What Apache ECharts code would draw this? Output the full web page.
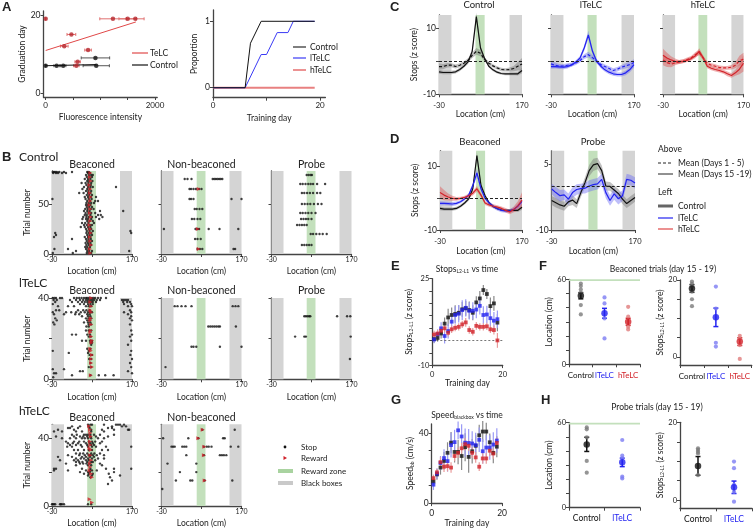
<!DOCTYPE html>
<html>
<head>
<meta charset="utf-8">
<script src="https://cdn.jsdelivr.net/npm/echarts@6/dist/echarts.min.js"></script>
<style>
  html, body { margin: 0; padding: 0; background: #fff; }
  #chart { width: 753px; height: 529px; }
</style>
</head>
<body>
<div id="chart"></div>
<script>
// ---------- data ----------
// A: graduation day vs fluorescence
var fluorTeLC = [0, 1230, 1500, 1640, 470, 340, 775, 585, 560]
var gradTeLC = [19, 19, 19, 19, 15, 12, 11, 8, 7]
var fluorSdTeLC = [0, 240, 160, 160, 80, 70, 60, 50, 50]
var fluorCtrl = [0, 200, 320, 910, 925]
var gradCtrl = [7, 7, 7, 9, 7]
var fluorSdCtrl = [0, 50, 50, 260, 240]
var fitTeLC = [[0, 10.9], [1650, 18.2]]
var fitCtrl = [[0, 7.0], [930, 7.3]]

// A: proportion graduated
var propDaysCtrl = [0, 6, 7, 9, 19]
var propCtrl = [0, 0, 0.67, 1, 1]
var propDaysL = [0, 6, 9, 10, 12, 14, 15, 19]
var propL = [0, 0, 0.5, 0.5, 0.83, 0.83, 1, 1]
var propDaysH = [0, 19]
var propH = [0, 0]

// B: stop rasters, rows are [trial, stop locations...]
var ctrlBeacon = [
  [82, -28, -25, -22, -18, -12, 0, 20, 58, 62], [81, -27, -20, -15, -5, 5, 60, 65],
  [79, 55, 62, 68, 72], [77, 57, 64, 70], [75, 52, 60, 66], [73, 58, 63, 71],
  [71, 44, 54, 61, 68], [69, 56, 62, 67], [67, 50, 60, 66, 72, 130], [65, 46, 58, 64],
  [63, 55, 61, 68], [61, 38, 49, 60, 66], [59, 57, 63, 70], [57, 52, 60, 67, 80],
  [55, -29, 54, 62, 69], [53, 58, 65, 78, 85], [51, 56, 62, 68, 75], [49, 55, 60, 66],
  [47, 57, 63, 70], [45, 53, 59, 67, 74], [43, 50, 58, 64, 90, 148], [41, 54, 61, 68, 78],
  [39, 52, 57, 66, 85, 92], [37, 48, 56, 62, 70, 80, 96], [35, 46, 55, 60, 68, 88],
  [33, 58, 64, 72], [31, 45, 53, 61, 75], [29, 50, 57, 65, 70], [27, 42, 52, 60, 66],
  [25, 55, 62, 68], [23, 57, 64, 72, 166], [21, -22, 56, 62, 68, 168], [19, -20, 58, 64, 70],
  [17, -25, 52, 60, 66], [15, 20, 55, 61, 67], [13, 57, 63, 70], [11, 54, 60, 66],
  [9, 56, 62, 68], [7, 53, 58, 65], [5, -24, 10, 55, 61], [3, 30, 58, 63, 70, 163],
  [1, -28, 22, 57, 62, 68]
]
var ctrlBeaconRew = [
  [81, 66], [77, 65], [73, 67], [69, 64], [65, 66], [61, 65], [57, 67], [53, 66],
  [49, 64], [45, 66], [41, 65], [37, 67], [33, 66], [29, 64], [25, 66], [21, 67],
  [17, 65], [13, 66], [9, 68], [5, 65], [1, 66]
]
var ctrlNonBeacon = [
  [75, 28, 35, 45, 98, 102, 106, 110, 114, 118, 122], [65, 40, 44, 50, 56, 64, 70],
  [55, 40, 44, 50, 145, 170], [45, 53, 58, 65, 72], [35, 46, 52, 60, 67],
  [25, -24, 55, 60, 64, 88, 115, 162], [15, 54, 60, 68], [5, 60, 66, 72, 150, 154]
]
var ctrlNonBeaconRew = [[65, 63], [25, 61], [5, 63]]
var ctrlProbe = [
  [79, 58, 63, 68, 71], [70, 42, 48, 55, 62, 68, 74, 84, 104], [61, 46, 52, 59, 66, 74, 84, 92],
  [50, 46, 53, 60, 67, 76, 86, 95], [41, 42, 48, 55, 62, 70, 80], [35, 44, 50, 56, 62, 70],
  [29, 34, 40, 46, 52, 58], [20, 68, 74, 82, 90, 98, 108], [9, 46, 52, 58, 64, 70]
]
var lBeacon = [
  [40, -28, -24, -20, -10, -5, 25, 32, 38, 44, 50, 55, 58, 62, 66, 70, 74, 78, 85, 92, 105],
  [39, -26, -18, 15, 30, 40, 48, 55, 60, 65, 70, 75, 82, 90, 145, 150, 155, 160],
  [38, -22, 20, 35, 45, 52, 58, 63, 68, 72, 80, 148, 158, 165], [37, -28, 40, 50, 60, 66, 72, 150, 168],
  [36, -15, 10, 25, 55, 62, 68, 160, 170], [34, -20, -12, 35, 48, 56, 64, 165],
  [33, -28, 5, 18, 30, 42, 52, 60, 66, 70, 150, 168], [32, -25, 0, 28, 38, 58, 64, 160],
  [31, 45, 60, 66, 168], [30, -22, 55, 62, 68, 165], [29, -18, 58, 64, 170], [28, -27, 50, 60, 66],
  [27, -24, 62, 68, 165], [26, 56, 62], [24, 55, 62, 68, 168], [22, 20, 30, 58, 65, 170],
  [21, 62, 67, 165], [19, 45, 55, 65, 70, 168], [18, 66, 70], [17, 68, 160], [15, 58, 66],
  [14, -28, 62, 168], [13, 12, 60], [12, 64, 70, 166], [10, 63, 68, 170], [8, 66, 165],
  [6, 62, 68, 168], [5, -28, 0], [4, 40, 47, 160], [3, -20, -25, 170], [2, 20, 66, 87, 103, 124], [1, -27]
]
var lBeaconRew = [
  [40, 68], [38, 66], [36, 68], [34, 66], [33, 68], [30, 67], [29, 66], [27, 68], [24, 67],
  [23, 66], [21, 68], [19, 70], [18, 69], [15, 66], [14, 67], [12, 70], [10, 68], [8, 68], [6, 70], [2, 67]
]
var lNonBeacon = [
  [36, 3, 10, 20, 30, 45, 148, 155, 162], [26, 87, 92, 97, 102, 107, 112, 116, 156],
  [16, 45, 50, 57, 116, 170], [6, -20]
]
var lProbe = [
  [31, 52, 56, 60, 64, 67, 134, 159, 167], [21, 29, 52, 56, 168], [10, 166]
]
var hBeacon = [
  [48, 60, 66, 70, 100, 130, 135, 140, 150], [47, 20, 40, 62, 120, 145, 155],
  [46, 10, 15, 35, 64, 110, 120], [45, -15, 25, 68, 95, 125, 160, 163],
  [44, -25, -5, 30, 45, 68, 100], [42, 20, 32, 50, 55, 60, 66, 75, 90, 125],
  [41, -20, 25, 40, 48, 58, 66, 80, 110], [40, -5, 15, 30, 45, 52, 60, 68, 85, 100],
  [38, 5, 25, 38, 50, 62, 70, 78, 95], [37, 10, 22, 35, 55, 65, 72, 90],
  [36, 15, 30, 42, 58, 68, 75], [35, 8, 20, 45, 60, 70, 80, 105, 168],
  [33, 25, 35, 50, 62, 70, 95, 110], [31, 30, 40, 48, 58, 68, 76, 90],
  [30, 10, 38, 52, 62, 66, 72, 82, 100], [29, -15, 20, 45, 55, 65, 75],
  [28, 30, 42, 50, 60, 70, 85, 100], [27, -10, 25, 35, 55, 62, 78],
  [26, 30, 38, 46, 58, 68, 72], [25, 5, 40, 48, 56, 64, 90], [24, 30, 60, 68, 95],
  [22, -25, -20, 45, 66, 105, 125, 168], [21, -25, 10, 55, 65, 70, 82], [20, 40, 60, 65, 125],
  [19, 50, 62, 72, 112], [18, 60, 70, 140], [17, 66, 115], [15, 120], [13, 110],
  [1, -30, -28, -25, -22, -10, -8, -5, 0, 60, 68]
]
var hBeaconRew = [
  [47, 63], [45, 65], [43, 66], [41, 67], [38, 65], [36, 66], [34, 64], [33, 67], [30, 66],
  [27, 68], [25, 65], [23, 66], [21, 64], [19, 68], [17, 70], [4, 64], [2, 70]
]
var hNonBeacon = [
  [45, 72, 153], [40, -26, 37, 62, 124, 128],
  [35, -5, -1, 3, 22, 27, 32, 76, 83, 88, 95, 143, 162],
  [30, 32, 76, 116, 121, 126, 132], [25, -15, 57], [20, 16, 57], [15, 6, 42, 47, 78, 147], [10, -28]
]
var hNonBeaconRew = [[45, 73], [40, 62], [35, 77], [30, 76], [15, 78]]

// C, D: stops (z score) by location
var locBins = [-30, -20, -10, 0, 10, 20, 30, 40, 50, 60, 70, 80, 90, 100, 110, 120, 130, 140, 150, 160, 170]
var ctrlLate = [-3.2, -3.4, -3.4, -3.4, -3.2, -2.5, -1.5, -0.2, 3, 13.5, 4, 0.8, -1.5, -2.6, -3.3, -3.7, -3.8, -3.8, -3.8, -3.8, -2.8]
var ctrlLateSem = [0.6, 0.5, 0.5, 0.5, 0.5, 0.5, 0.5, 0.6, 0.8, 1.2, 0.8, 0.5, 0.4, 0.4, 0.4, 0.4, 0.4, 0.4, 0.4, 0.5, 0.8]
var ctrlEarly = [-1.6, -1.6, -1.2, -1.2, -1.6, -1.2, -0.6, 0.3, 1.8, 3, 2.4, 0.5, -0.6, -1.4, -2, -2.5, -2.6, -2.5, -2.2, -1.5, -0.8]
var ctrlEarlySem = [1, 0.8, 0.7, 0.6, 0.6, 0.6, 0.6, 0.6, 0.8, 1, 0.9, 0.6, 0.5, 0.5, 0.5, 0.5, 0.5, 0.6, 0.8, 1.3, 1.8]
var lLate = [-1.6, -1.6, -1.7, -1.8, -1.6, -1.1, -0.2, 1, 4, 8, 3, 0, -1.5, -2.6, -3.3, -3.8, -4, -4, -3.5, -2.5, -1]
var lLateSem = [0.7, 0.6, 0.6, 0.6, 0.6, 0.5, 0.5, 0.6, 0.8, 1.2, 0.8, 0.6, 0.6, 0.6, 0.6, 0.6, 0.6, 0.6, 0.7, 0.8, 1]
var lEarly = [-0.8, -1.2, -1.5, -1.4, -1.2, -1, -0.5, 0.2, 1.4, 2, 1.1, 0, -1, -1.6, -2.2, -2.8, -2.4, -1.8, -1.4, -1, -0.4]
var lEarlySem = [0.9, 0.8, 0.7, 0.6, 0.6, 0.6, 0.6, 0.6, 0.7, 0.9, 0.8, 0.6, 0.6, 0.6, 0.7, 0.7, 0.7, 0.7, 0.8, 0.9, 1]
var hLate = [1.8, 1, 0.4, 0, -0.2, 0, 0.3, 0.8, 1.6, 3, 1, -1.5, -2.1, -2.5, -2.8, -3.2, -3.8, -4.3, -3.5, -2.4, -0.6]
var hLateSem = [2, 1.6, 1.1, 0.8, 0.6, 0.5, 0.5, 0.6, 0.7, 0.9, 0.7, 0.6, 0.6, 0.6, 0.6, 0.6, 0.7, 0.7, 0.9, 1.5, 2.5]
var hEarly = [0.4, -0.4, -0.9, -0.5, -0.2, 0, 0.5, 1, 2, 2.6, 1, -0.6, -1.2, -1.5, -1.9, -2, -2, -1.8, -1.2, 0.2, 0.6]
var hEarlySem = [1.6, 1.3, 0.9, 0.7, 0.6, 0.6, 0.6, 0.6, 0.7, 0.8, 0.7, 0.6, 0.6, 0.6, 0.6, 0.6, 0.6, 0.7, 0.9, 1.5, 2]
var ctrlProbeZ = [-3.3, -3.8, -4.3, -4.6, -3.6, -3.2, -4, -1.5, 0.8, 3.5, 4.8, 5.1, 3.5, 0, -0.1, -0.9, -1.7, -3, -4, -3.3, -2.6]
var ctrlProbeSem = [1, 1.1, 1, 1, 1, 1.1, 1, 1, 1.2, 1.3, 1.4, 1.3, 1.2, 1, 1, 1, 1, 1.1, 1, 1, 1]
var lProbeZ = [-0.7, -1.5, -2.2, -2, -3, -1.5, -0.8, -0.6, -0.5, 0, 0.3, 0.5, 1.5, -1.5, -3.3, -1.8, -2.9, -2.2, 1.5, 1.3, 0.7]
var lProbeSem = [1.2, 1.3, 1.3, 1.2, 1.3, 1.2, 1.2, 1.1, 1.2, 1.3, 1.3, 1.3, 1.3, 1.3, 1.2, 1.3, 1.3, 1.2, 1.3, 1.2, 1.3]

// E, G: by training day
var dayMid = [0.5, 1.5, 2.5, 3.5, 4.5, 5.5, 6.5, 7.5, 8.5, 9.5, 10.5, 11.5, 12.5, 13.5, 14.5, 15.5, 16.5, 17.5, 18.5]
var stopsCtrl = [0.5, 1, 2.8, 6.8, 9.3, 10.3, 10.7, 11.2, 12.6, 13, 12.3, 11.2, 15.4, 17, 20.4, 18.8, 13.9, 15, 7.2]
var stopsCtrlErr = [1.5, 1.5, 2, 2.5, 3.5, 3, 3.5, 3, 3, 3, 3.5, 3, 2.5, 3, 2, 2, 3.5, 3, 3.5]
var stopsL = [0.4, 2.5, 4.9, 1.8, 3.8, 7.6, 10.3, 10.8, 12.3, 13.2, 12, 12, 12.5, 14, 10.3, 10.5, 9, 8, 8.6]
var stopsLErr = [1.5, 2, 2.5, 3, 3, 3.5, 3.5, 3.5, 4, 3.5, 3.5, 3.5, 3.5, 3.5, 3.5, 3.5, 3.5, 3.5, 3.5]
var stopsH = [2.4, 2.8, 3.9, 4.9, 3.1, 4.5, 5.1, 5.5, 6.5, 7.3, 4.2, 3.5, 5.9, 5.5, 5.5, 5.7, 4.5, 4.2, 0]
var stopsHErr = [1.5, 1.5, 1.5, 1.6, 1.5, 1.5, 1.4, 1.5, 1.5, 1.8, 1.5, 1.5, 1.6, 1.5, 1.5, 1.5, 1.5, 1.8, 3]
var speedCtrl = [12.3, 16.3, 20.2, 24, 28.6, 34.4, 29.1, 29.1, 26.8, 31.8, 26.3, 29.5, 32.6, 38.6, 40.7, 40.7, 34.6, 28.6, 32.1]
var speedCtrlErr = [3, 3, 4, 5, 6, 6, 6, 7, 8, 8, 9, 7, 6, 6, 6, 5, 5, 6, 6]
var speedL = [10.5, 16.8, 22.8, 25.6, 23.9, 33, 34.7, 41.4, 37.9, 34.4, 34.2, 33.9, 33, 36, 29.5, 31.6, 31.6, 33.3, 35.6]
var speedLErr = [3, 3, 4, 5, 6, 7, 7, 5, 7, 8, 8, 7, 7, 7, 7, 7, 7, 7, 7]
var speedH = [14.2, 17.5, 23.3, 20.7, 21, 20.2, 26.8, 28.6, 31.2, 33.5, 32.6, 28.6, 26, 20.7, 25.4, 25.4, 29.8, 28.2, 34.2]
var speedHErr = [2, 2, 3, 3, 3, 3, 3, 3, 3, 3.5, 3, 3, 3, 2.5, 3, 3, 3, 3, 3]

// F, H: per-animal summaries
var groupsF = ['Control', 'lTeLC', 'hTeLC']
var groupsH = ['Control', 'lTeLC']
var fLocPts = [[57, 55.2, 52.8, 50.5, 41.8, 35.2], [47.2, 43, 32.4, 18.3], [40.6, 33.6, 26.5, 24.6]]
var fLocMean = [48.4, 36, 30]
var fLocSem = [2.2, 3.5, 2.5]
var fStopPts = [[19.6, 19, 18.3, 17, 15, 13.2], [18.3, 12.6, 3.7, 2.7], [5.5, 4.8, 3.1, -0.5]]
var fStopMean = [17.8, 10.3, 4]
var fStopSem = [1, 2.4, 1]
var hLocPts = [[56.7, 55.3, 49.6, 33, 24.7], [47.8, 36.7, 34.8, 21.9, 20.7]]
var hLocMean = [44.7, 32]
var hLocSem = [5, 3]
var hStopPts = [[13.3, 12.9, 12.4, 12, 6.4], [9.9, 8.2, 3.9, 2.1, -0.4]]
var hStopMean = [8.8, 3.3]
var hStopSem = [2.4, 1.6]

// ---------- chart building ----------
var FONT = 'Lato'
var AX = '#444'
var BLK = '#111'
var BLU = '#2323f0'
var RED = '#d2232a'
var GRAYBOX = '#d4d4d4'
var GREEN = '#c3e0bc'
var catColors = [BLK, BLU, RED]
var lightColors = ['#7a7a7a', '#7c7cf2', '#e07c7c']
var RICH = {
  n: { fontSize: 8.5, fontFamily: FONT, color: '#222' },
  s: { fontSize: 5, fontFamily: FONT, color: '#222', padding: [4, 0, 0, 0] }
}

var grids = []
var xAxes = []
var yAxes = []
var series = []
var graphics = []

function axis (gi, a) {
  var isCat = a.type === 'category'
  var label = {
    show: !a.hideLabels,
    fontSize: a.fs || 7.5,
    fontFamily: FONT,
    color: a.colorFn || '#222',
    margin: a.margin || 3
  }
  if (isCat) {
    label.interval = 0
  } else {
    label.customValues = a.labels
    label.formatter = function (v) { return String(v) }
  }
  return {
    gridIndex: gi,
    type: a.type || 'value',
    data: a.data,
    min: a.min,
    max: a.max,
    boundaryGap: isCat ? true : undefined,
    axisLine: { show: true, onZero: false, lineStyle: { color: AX, width: 1.3 } },
    axisTick: isCat
      ? { show: true, length: 3, lineStyle: { color: AX, width: 1 } }
      : { show: true, length: 3, lineStyle: { color: AX, width: 1 }, customValues: a.ticks },
    axisLabel: label,
    splitLine: { show: false },
    name: a.name,
    nameLocation: 'middle',
    nameGap: a.gap || 12,
    nameTextStyle: { fontSize: a.nfs || 8.5, fontFamily: FONT, color: '#222', rich: RICH }
  }
}

function panel (left, top, width, height, x, y) {
  var gi = grids.length
  grids.push({ left: left, top: top, width: width, height: height })
  xAxes.push(axis(gi, x))
  yAxes.push(axis(gi, y))
  return gi
}

function pairs (xs, ys) {
  return xs.map(function (x, i) { return [x, ys[i]] })
}

function rowsToPoints (rows) {
  var pts = []
  rows.forEach(function (r) {
    for (var k = 1; k < r.length; k++) pts.push([r[k], r[0]])
  })
  return pts
}

function scatter (gi, data, color, size, symbol, extra) {
  series.push(Object.assign({
    type: 'scatter', xAxisIndex: gi, yAxisIndex: gi, data: data,
    symbol: symbol || 'circle', symbolSize: size, itemStyle: { color: color }, silent: true, z: 5
  }, extra || {}))
}

function line (gi, data, color, width, dash, extra) {
  series.push(Object.assign({
    type: 'line', xAxisIndex: gi, yAxisIndex: gi, data: data, showSymbol: false, silent: true,
    lineStyle: { color: color, width: width, type: dash ? [3, 2] : 'solid' }, z: 4
  }, extra || {}))
}

function band (gi, xs, mean, sem, color, opacity) {
  var data = xs.map(function (x, i) { return [x, mean[i] - sem[i], mean[i] + sem[i]] })
  series.push({
    type: 'custom', xAxisIndex: gi, yAxisIndex: gi, data: data, silent: true, z: 3,
    renderItem: function (params, api) {
      if (params.dataIndexInside !== 0) return null
      var n = params.dataInsideLength
      var up = []
      var lo = []
      for (var j = 0; j < n; j++) {
        up.push(api.coord([api.value(0, j), api.value(2, j)]))
        lo.push(api.coord([api.value(0, j), api.value(1, j)]))
      }
      return { type: 'polygon', shape: { points: up.concat(lo.reverse()) }, style: { fill: color, opacity: opacity } }
    }
  })
}

// data rows: [x, y, lo, hi]
function errBars (gi, data, color, horizontal, cap, width) {
  series.push({
    type: 'custom', xAxisIndex: gi, yAxisIndex: gi, data: data, silent: true, z: 4,
    renderItem: function (params, api) {
      var x = api.value(0)
      var y = api.value(1)
      var a = horizontal ? api.coord([api.value(2), y]) : api.coord([x, api.value(2)])
      var b = horizontal ? api.coord([api.value(3), y]) : api.coord([x, api.value(3)])
      var st = { stroke: color, lineWidth: width || 1 }
      var kids = [{ type: 'line', shape: { x1: a[0], y1: a[1], x2: b[0], y2: b[1] }, style: st }]
      if (cap) {
        if (horizontal) {
          kids.push({ type: 'line', shape: { x1: a[0], y1: a[1] - cap, x2: a[0], y2: a[1] + cap }, style: st })
          kids.push({ type: 'line', shape: { x1: b[0], y1: b[1] - cap, x2: b[0], y2: b[1] + cap }, style: st })
        } else {
          kids.push({ type: 'line', shape: { x1: a[0] - cap, y1: a[1], x2: a[0] + cap, y2: a[1] }, style: st })
          kids.push({ type: 'line', shape: { x1: b[0] - cap, y1: b[1], x2: b[0] + cap, y2: b[1] }, style: st })
        }
      }
      return { type: 'group', children: kids }
    }
  })
}

function zones (gi, zeroLine) {
  var s = {
    type: 'line', xAxisIndex: gi, yAxisIndex: gi, data: [], silent: true, z: 1,
    markArea: {
      silent: true,
      data: [
        [{ xAxis: -30, itemStyle: { color: GRAYBOX } }, { xAxis: 0 }],
        [{ xAxis: 140, itemStyle: { color: GRAYBOX } }, { xAxis: 170 }],
        [{ xAxis: 58, itemStyle: { color: GREEN } }, { xAxis: 80 }]
      ]
    }
  }
  if (zeroLine) {
    s.markLine = {
      silent: true, symbol: 'none', label: { show: false },
      lineStyle: { color: '#222', type: [3, 2], width: 1 },
      data: [{ yAxis: 0 }]
    }
  }
  series.push(s)
}

function text (x, y, str, size, opts) {
  opts = opts || {}
  graphics.push({
    type: 'text', x: x, y: y, rotation: opts.rotation || 0, silent: true,
    style: {
      text: str, fill: opts.color || '#222', textAlign: opts.align || 'left', align: opts.align || 'left',
      textVerticalAlign: 'middle', verticalAlign: 'middle',
      font: (opts.bold ? 'bold ' : '') + size + 'px ' + (opts.family || FONT),
      rich: opts.rich
    }
  })
}

function legLine (x1, x2, y, color, width, dash) {
  graphics.push({
    type: 'line', silent: true, shape: { x1: x1, y1: y, x2: x2, y2: y },
    style: { stroke: color, lineWidth: width, lineDash: dash ? [3, 2] : null }
  })
}

// ---------- A ----------
var gA1 = panel(43.5, 11, 113.7, 86,
  { min: -40, max: 2040, ticks: [0, 500, 1000, 1500, 2000], labels: [0, 2000], name: 'Fluorescence intensity', gap: 16, margin: 4, fs: 8 },
  { min: -1, max: 21, ticks: [0, 20], labels: [0, 20], name: 'Graduation day', gap: 17, fs: 8.5 })
line(gA1, fitTeLC, '#e04848', 1)
line(gA1, fitCtrl, BLK, 1)
errBars(gA1, fluorTeLC.map(function (f, i) { return [f, gradTeLC[i], f - fluorSdTeLC[i], f + fluorSdTeLC[i]] }), '#e07070', true, 1.5)
errBars(gA1, fluorCtrl.map(function (f, i) { return [f, gradCtrl[i], f - fluorSdCtrl[i], f + fluorSdCtrl[i]] }), '#555', true, 1.5)
scatter(gA1, pairs(fluorTeLC, gradTeLC), '#b5262c', 4.5)
scatter(gA1, pairs(fluorCtrl, gradCtrl), BLK, 4.5)
legLine(132, 148, 53, '#e04848', 1.2)
text(150, 53, 'TeLC', 8.5)
legLine(132, 148, 65, BLK, 1.2)
text(150, 65, 'Control', 8.5)

var gA2 = panel(213, 10, 112.4, 87.7,
  { min: 0, max: 21, ticks: [0, 10, 20], labels: [0, 20], name: 'Training day', gap: 16, margin: 4, fs: 8 },
  { min: -0.15, max: 1.17, ticks: [0, 1], labels: [0, 1], name: 'Proportion', gap: 14, fs: 8.5 })
line(gA2, pairs(propDaysH, propH), '#e88080', 2.2)
line(gA2, pairs(propDaysL, propL), '#3a3af5', 1)
line(gA2, pairs(propDaysCtrl, propCtrl), BLK, 1)
legLine(293, 306, 47, '#555', 1.5)
text(310, 47, 'Control', 8.5)
legLine(293, 306, 58, '#3a3af5', 1.2)
text(310, 58, 'lTeLC', 8.5)
legLine(293, 306, 70, '#e04848', 1.2)
text(310, 70, 'hTeLC', 8.5)

// ---------- B ----------
var colLeft = [52, 161.5, 271.5]
var rowDefs = [
  { top: 171, height: 83, max: 83, ticks: [0, 50], labels: [0, 50] },
  { top: 298, height: 81.3, max: 40, ticks: [0, 20, 40], labels: [0, 40] },
  { top: 424.3, height: 82.4, max: 48.2, ticks: [0, 20, 40], labels: [0, 40] }
]
var rasters = [
  [[ctrlBeacon, ctrlBeaconRew], [ctrlNonBeacon, ctrlNonBeaconRew], [ctrlProbe, []]],
  [[lBeacon, lBeaconRew], [lNonBeacon, []], [lProbe, []]],
  [[hBeacon, hBeaconRew], [hNonBeacon, hNonBeaconRew]]
]
rasters.forEach(function (row, r) {
  var rd = rowDefs[r]
  row.forEach(function (cell, c) {
    var gi = panel(colLeft[c], rd.top, 80, rd.height,
      { min: -30, max: 170, ticks: [-30, 70, 170], labels: [-30, 170], name: 'Location (cm)', gap: 13, margin: 2, fs: 7 },
      { min: 0, max: rd.max, ticks: rd.ticks, labels: rd.labels, hideLabels: c > 0, name: c === 0 ? 'Trial number' : '', gap: 20, fs: 9.5 })
    zones(gi, false)
    scatter(gi, rowsToPoints(cell[0]), BLK, 2.4)
    if (cell[1].length) {
      scatter(gi, cell[1].map(function (p) { return [p[1], p[0]] }), '#d0202a', 4, 'triangle', { symbolRotate: -90, z: 6 })
    }
  })
})
var rowTitleY = [165, 290.5, 418]
var colTitles = ['Beaconed', 'Non-beaconed', 'Probe']
rasters.forEach(function (row, r) {
  row.forEach(function (cell, c) {
    text(colLeft[c] + 40, rowTitleY[r], colTitles[c], 10.5, { align: 'center' })
  })
})
text(2, 157, 'B', 13, { bold: true, family: 'Liberation Sans' })
text(19, 157, 'Control', 12)
text(19, 283, 'lTeLC', 12)
text(19, 411, 'hTeLC', 12)
// B legend
graphics.push({ type: 'circle', silent: true, shape: { cx: 285, cy: 447, r: 1.4 }, style: { fill: BLK } })
text(301, 447, 'Stop', 8)
graphics.push({ type: 'polygon', silent: true, shape: { points: [[283.5, 456], [283.5, 460], [287, 458]] }, style: { fill: '#d0202a' } })
text(301, 458, 'Reward', 8)
graphics.push({ type: 'rect', silent: true, shape: { x: 278, y: 469, width: 15, height: 4 }, style: { fill: '#a9d3a0' } })
text(301, 471, 'Reward zone', 8)
graphics.push({ type: 'rect', silent: true, shape: { x: 278, y: 481, width: 15, height: 4 }, style: { fill: '#c9c9c9' } })
text(301, 483, 'Black boxes', 8)

// ---------- C ----------
var cDefs = [
  { left: 439, title: 'Control', late: ctrlLate, lateSem: ctrlLateSem, early: ctrlEarly, earlySem: ctrlEarlySem, color: BLK, fill: '#777' },
  { left: 551, title: 'lTeLC', late: lLate, lateSem: lLateSem, early: lEarly, earlySem: lEarlySem, color: BLU, fill: '#6f6ff5' },
  { left: 663, title: 'hTeLC', late: hLate, lateSem: hLateSem, early: hEarly, earlySem: hEarlySem, color: RED, fill: '#d55' }
]
cDefs.forEach(function (d, i) {
  var gi = panel(d.left, 15, 83, 79.3,
    { min: -30, max: 170, ticks: [-30, 170], labels: [-30, 170], name: 'Location (cm)', gap: 15, margin: 7, fs: 7.5 },
    { min: -10, max: 14, ticks: [-10, 0, 10], labels: [-10, 10], hideLabels: i > 0, name: i === 0 ? 'Stops (z score)' : '', gap: 14, fs: 8.5 })
  zones(gi, true)
  band(gi, locBins, d.early, d.earlySem, d.fill, 0.45)
  band(gi, locBins, d.late, d.lateSem, d.fill, 0.45)
  line(gi, pairs(locBins, d.early), d.color, 1.2, true)
  line(gi, pairs(locBins, d.late), d.color, 1.2, false)
  text(d.left + 40, 5, d.title, 9.5, { align: 'center' })
})
text(390, 7, 'C', 13, { bold: true, family: 'Liberation Sans' })

// ---------- D ----------
var gD1 = panel(440, 150.7, 82, 79.3,
  { min: -30, max: 170, ticks: [-30, 170], labels: [-30, 170], name: 'Location (cm)', gap: 16, margin: 8, fs: 7.5 },
  { min: -10, max: 15, ticks: [-10, 0, 10], labels: [-10, 10], name: 'Stops (z score)', gap: 14, fs: 8.5 })
zones(gD1, true)
band(gD1, locBins, ctrlLate, ctrlLateSem, '#777', 0.45)
band(gD1, locBins, lLate, lLateSem, '#6f6ff5', 0.45)
band(gD1, locBins, hLate, hLateSem, '#d55', 0.45)
line(gD1, pairs(locBins, ctrlLate), BLK, 1.2)
line(gD1, pairs(locBins, lLate), BLU, 1.2)
line(gD1, pairs(locBins, hLate), RED, 1.2)
text(480, 141.5, 'Beaconed', 9.5, { align: 'center' })

var gD2 = panel(551.7, 150.8, 83.3, 79.2,
  { min: -30, max: 170, ticks: [-30, 170], labels: [-30, 170], name: 'Location (cm)', gap: 16, margin: 8, fs: 7.5 },
  { min: -10, max: 8, ticks: [-10, 5], labels: [-10, 5], gap: 14, fs: 8.5 })
zones(gD2, true)
band(gD2, locBins, ctrlProbeZ, ctrlProbeSem, '#777', 0.45)
band(gD2, locBins, lProbeZ, lProbeSem, '#6f6ff5', 0.45)
line(gD2, pairs(locBins, ctrlProbeZ), BLK, 1.2)
line(gD2, pairs(locBins, lProbeZ), BLU, 1.2)
text(593, 141.5, 'Probe', 9.5, { align: 'center' })
text(390, 139, 'D', 13, { bold: true, family: 'Liberation Sans' })
// D legend
text(658, 149, 'Above', 8.5)
legLine(658, 673, 163, '#222', 1, true)
text(678, 163, 'Mean (Days 1 - 5)', 8.5)
legLine(658, 673, 174, '#222', 1)
text(678, 174, 'Mean (Days 15 -19)', 8.5)
text(658, 192, 'Left', 8.5)
legLine(658, 673, 206, '#666', 3)
text(678, 206, 'Control', 8.5)
legLine(658, 673, 218, BLU, 1.2)
text(678, 218, 'lTeLC', 8.5)
legLine(658, 673, 229, '#e04848', 1.2)
text(678, 229, 'hTeLC', 8.5)

// ---------- E ----------
var gE = panel(432.3, 278.7, 70.4, 86.4,
  { min: 0, max: 20, ticks: [0, 20], labels: [0, 20], name: 'Training day', gap: 11, margin: 5 },
  { min: -10, max: 25, ticks: [-10, -5, 0, 5, 10, 15, 20, 25], labels: [-10, 25],
    name: '{n|Stops}{s|L2-L1}{n| (z score)}', gap: 13 })
series.push({
  type: 'line', xAxisIndex: gE, yAxisIndex: gE, data: [], silent: true,
  markLine: { silent: true, symbol: 'none', label: { show: false }, lineStyle: { color: '#555', type: [2, 2], width: 0.8 }, data: [{ yAxis: 0 }] }
})
var eSets = [[stopsCtrl, stopsCtrlErr, BLK, '#888'], [stopsL, stopsLErr, BLU, '#9a9af5'], [stopsH, stopsHErr, RED, '#e89a9a']]
eSets.forEach(function (s) {
  errBars(gE, dayMid.map(function (d, i) { return [d, s[0][i], s[0][i] - s[1][i], s[0][i] + s[1][i]] }), s[3], false, 0, 1.2)
})
eSets.forEach(function (s) { scatter(gE, pairs(dayMid, s[0]), s[2], 3.8, 'rect') })
text(391, 266, 'E', 13, { bold: true, family: 'Liberation Sans' })
text(467, 269, '{n|Stops}{s|L2-L1}{n| vs time}', 8.5, { align: 'center', rich: RICH })

// ---------- G ----------
var gG = panel(431.7, 424, 70.4, 85.3,
  { min: 0, max: 20, ticks: [0, 20], labels: [0, 20], name: 'Training day', gap: 14, margin: 6, fs: 8.5 },
  { min: 0, max: 45, ticks: [0, 10, 20, 30, 40], labels: [0, 40], name: '{n|Speed}{s|bb}{n| (cm/s)}', gap: 14, fs: 8.5 })
var gSets = [[speedCtrl, speedCtrlErr, BLK, '#888'], [speedL, speedLErr, BLU, '#9a9af5'], [speedH, speedHErr, RED, '#e89a9a']]
gSets.forEach(function (s) {
  errBars(gG, dayMid.map(function (d, i) { return [d, s[0][i], s[0][i] - s[1][i], s[0][i] + s[1][i]] }), s[3], false, 0, 1.2)
})
gSets.forEach(function (s) { scatter(gG, pairs(dayMid, s[0]), s[2], 3.8, 'rect') })
text(391, 400, 'G', 13, { bold: true, family: 'Liberation Sans' })
text(467, 415, '{n|Speed}{s|blackbox}{n| vs time}', 8.5, { align: 'center', rich: RICH })

// ---------- F, H ----------
function summary (gi, groups, pts, mean, sem) {
  groups.forEach(function (g, i) {
    scatter(gi, pts[i].map(function (v) { return [i, v] }), lightColors[i], 4.2)
  })
  groups.forEach(function (g, i) {
    errBars(gi, [[i, mean[i], mean[i] - sem[i], mean[i] + sem[i]]], catColors[i], false, 2.5, 1.5)
    scatter(gi, [[i, mean[i]]], catColors[i], 6.5, 'circle', { z: 7 })
  })
}
function greenTop (gi) {
  series.push({
    type: 'line', xAxisIndex: gi, yAxisIndex: gi, data: [], silent: true, z: 1,
    markArea: { silent: true, data: [[{ yAxis: 58.8, itemStyle: { color: GREEN } }, { yAxis: 60 }]] }
  })
}
var catColorFn = function (v, i) { return catColors[i] }

var gF1 = panel(569, 279.3, 71, 85,
  { type: 'category', data: groupsF, name: '', margin: 7, fs: 8, colorFn: catColorFn },
  { min: 0, max: 60, ticks: [0, 10, 20, 30, 40, 50, 60], labels: [0, 60], name: 'Location (cm)', gap: 11 })
greenTop(gF1)
summary(gF1, groupsF, fLocPts, fLocMean, fLocSem)
var gF2 = panel(680, 280, 72, 85,
  { type: 'category', data: groupsF, name: '', margin: 7, fs: 8, colorFn: catColorFn },
  { min: -2.08, max: 20, ticks: [0, 5, 10, 15, 20], labels: [0, 20], name: '{n|Stops}{s|L2-L1}{n| (z score)}', gap: 11 })
summary(gF2, groupsF, fStopPts, fStopMean, fStopSem)
text(539, 266, 'F', 13, { bold: true, family: 'Liberation Sans' })
text(663, 269, 'Beaconed trials (day 15 - 19)', 8.5, { align: 'center' })

var gH1 = panel(569, 422.7, 71, 85,
  { type: 'category', data: groupsH, name: '', margin: 6, fs: 8.5, colorFn: catColorFn },
  { min: 0, max: 60, ticks: [0, 10, 20, 30, 40, 50, 60], labels: [0, 60], name: 'Location (cm)', gap: 11 })
greenTop(gH1)
summary(gH1, groupsH, hLocPts, hLocMean, hLocSem)
var gH2 = panel(680, 422.3, 72, 86,
  { type: 'category', data: groupsH, name: '', margin: 6, fs: 8.5, colorFn: catColorFn },
  { min: -2.1, max: 20, ticks: [0, 5, 10, 15, 20], labels: [0, 20], name: '{n|Stops}{s|L2-L1}{n| (z score)}', gap: 11 })
summary(gH2, groupsH, hStopPts, hStopMean, hStopSem)
text(541, 400, 'H', 13, { bold: true, family: 'Liberation Sans' })
text(657, 407.5, 'Probe trials (day 15 - 19)', 8.5, { align: 'center' })

text(2, 7, 'A', 13, { bold: true, family: 'Liberation Sans' })

var chart = echarts.init(document.getElementById('chart'))
chart.setOption({
  animation: false,
  textStyle: { fontFamily: FONT },
  grid: grids,
  xAxis: xAxes,
  yAxis: yAxes,
  series: series,
  graphic: { elements: graphics }
})
</script>
</body>
</html>
